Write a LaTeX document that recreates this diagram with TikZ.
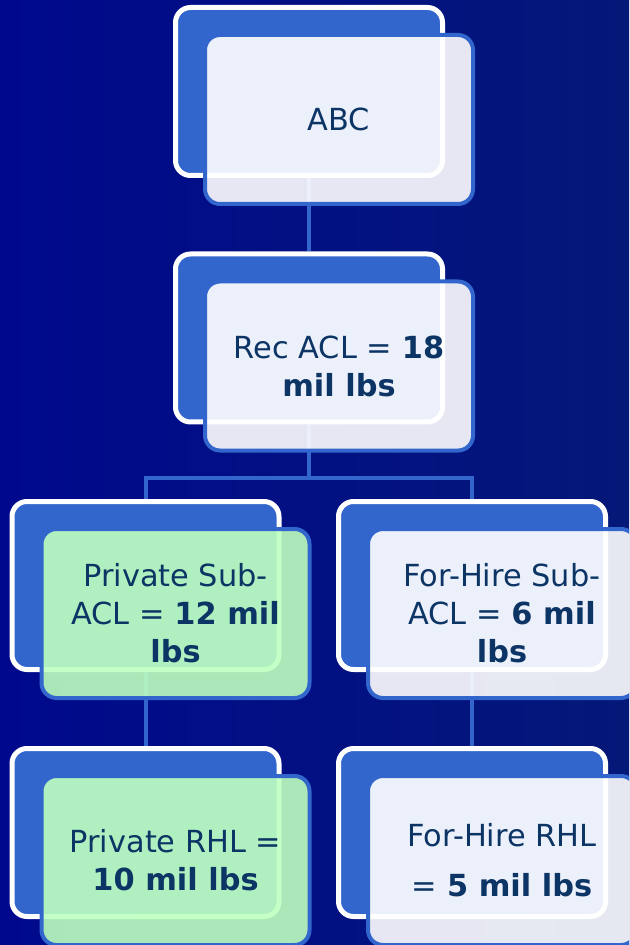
\documentclass[tikz,border=0pt]{standalone}
\usepackage{fontspec}
\setmainfont{DejaVu Sans}
\usepackage{xcolor}
\usetikzlibrary{positioning,calc}
\definecolor{bgleft}{RGB}{0,9,141}
\definecolor{bgright}{RGB}{4,24,120}
\definecolor{boxblue}{RGB}{51,102,204}
\definecolor{txtnavy}{RGB}{12,52,100}
\definecolor{mint}{RGB}{190,255,191}
\tikzset{
  backbox/.style={rectangle,rounded corners=7.5pt,fill=boxblue,draw=white,line width=2.5pt,
    minimum width=133.5pt,minimum height=84pt,inner sep=0pt},
  frontbox/.style={rectangle,rounded corners=7.5pt,fill=white,fill opacity=0.9,text opacity=1,
    draw=boxblue,line width=2pt,minimum width=134pt,minimum height=84.5pt,inner sep=0pt,
    text=txtnavy,align=center,font=\fontsize{15.2}{19}\selectfont,xshift=15pt,yshift=-14pt},
  link/.style={draw=boxblue,line width=2pt}
}

\begin{document}
\begin{tikzpicture}
\useasboundingbox (0,0) rectangle (314.5pt,-472.5pt);
\clip (0,0) rectangle (314.5pt,-472.5pt);
\shade[left color=bgleft,right color=bgright] (0,0) rectangle (314.5pt,-472.5pt);
\foreach \n/\x/\y in {abcb/154.5/-45.75,recb/154.5/-169,privb/72.75/-292.75,hireb/236/-292.75,
  privrhlb/72.75/-416.25,hirerhlb/236/-416.25}{
\node[backbox] (\n) at (\x pt,\y pt) {};}
\coordinate (split) at (154.5pt,-239pt);
\draw[link] (abcb.south)--(recb.north);
\draw[link] (recb.south)--(split) -| (privb.north);
\draw[link] (split) -| (hireb.north);
\draw[link] (privb.south)--(privrhlb.north);
\draw[link] (hireb.south)--(hirerhlb.north);
\node[frontbox] (abc) at (abcb) {ABC};
\node[frontbox] (rec) at (recb) {Rec ACL = \textbf{18}\\\textbf{mil lbs}};
\node[frontbox,fill=mint] (priv) at (privb) {Private Sub-\\ACL = \textbf{12 mil}\\\textbf{lbs}};
\node[frontbox] (hire) at (hireb) {For-Hire Sub-\\ACL = \textbf{6 mil}\\\textbf{lbs}};
\node[frontbox,fill=mint] (privrhl) at (privrhlb) {Private RHL =\\\textbf{10 mil lbs}};
\node[frontbox] (hirerhl) at (hirerhlb) {For-Hire RHL\\[6pt]= \textbf{5 mil lbs}};
\end{tikzpicture}
\end{document}
